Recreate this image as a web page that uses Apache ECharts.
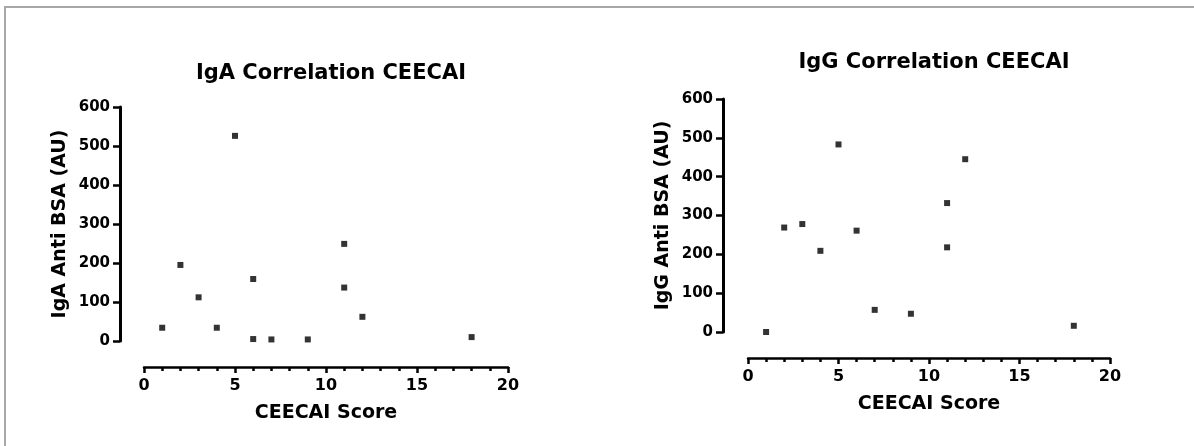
<!DOCTYPE html>
<html>
<head>
<meta charset="utf-8">
<script src="https://cdn.jsdelivr.net/npm/echarts@6/dist/echarts.min.js"></script>
<style>
  html, body { margin: 0; padding: 0; background: #fff; }
  #main { width: 1194px; height: 446px; }
</style>
</head>
<body>
<div id="main"></div>
<script>
let igaScore = [1, 2, 3, 4, 5, 6, 6, 7, 9, 11, 11, 12, 18];
let igaValue = [34, 195, 112, 34, 526, 159, 5, 4, 4, 249, 137, 62, 10];
let iggScore = [1, 2, 3, 4, 5, 6, 7, 9, 11, 11, 12, 18];
let iggValue = [0, 269, 278, 209, 483, 261, 57, 47, 332, 218, 445, 16];

let titles = ["IgA Correlation CEECAI", "IgG Correlation CEECAI"];
let yNames = ["IgA Anti BSA (AU)", "IgG Anti BSA (AU)"];
let xName = "CEECAI Score";

function pairs(xs, ys) {
  let out = [];
  xs.forEach(function(x, i) {
    out.push([x, ys[i]]);
  });
  return out;
}

let font = "DejaVu Sans";
let ink = "#000";

function xAxisFor(idx, offset) {
  return {
    type: "value",
    gridIndex: idx,
    min: 0,
    max: 20,
    interval: 5,
    offset: offset,
    name: xName,
    nameLocation: "middle",
    nameGap: 37,
    nameTextStyle: { fontFamily: font, fontWeight: "bold", fontSize: 19, color: ink },
    axisLine: { show: true, onZero: false, lineStyle: { color: "#000", width: 2.5 } },
    axisTick: { show: true, length: 6, lineStyle: { color: "#000", width: 2.5 } },
    minorTick: { show: true, splitNumber: 5, length: 4, lineStyle: { color: "#000", width: 2.5 } },
    axisLabel: { margin: 11, fontFamily: font, fontWeight: "bold", fontSize: 16, color: ink },
    splitLine: { show: false }
  };
}

function yAxisFor(idx, offset) {
  return {
    type: "value",
    gridIndex: idx,
    min: 0,
    max: 600,
    interval: 100,
    offset: offset,
    name: yNames[idx],
    nameLocation: "middle",
    nameRotate: 90,
    nameGap: 50,
    nameTextStyle: { fontFamily: font, fontWeight: "bold", fontSize: 19, color: ink },
    axisLine: { show: true, onZero: false, lineStyle: { color: "#000", width: 3 } },
    axisTick: { show: true, length: 7, lineStyle: { color: "#000", width: 2.5 } },
    axisLabel: { margin: 10, fontFamily: font, fontWeight: "bold", fontSize: 15, color: ink },
    splitLine: { show: false }
  };
}

let myChart = echarts.init(document.getElementById("main"));

let option = {
  backgroundColor: "#fff",
  animation: false,
  title: [
    {
      text: titles[0],
      left: 326,
      top: 58,
      textAlign: "center",
      textStyle: { fontFamily: font, fontWeight: "bold", fontSize: 21, color: ink }
    },
    {
      text: titles[1],
      left: 929,
      top: 47,
      textAlign: "center",
      textStyle: { fontFamily: font, fontWeight: "bold", fontSize: 21, color: ink }
    }
  ],
  graphic: [
    {
      type: "polyline",
      shape: { points: [[5, 446], [5, 7], [1194, 7]] },
      style: { fill: null, stroke: "#a8a8a8", lineWidth: 2 },
      silent: true
    }
  ],
  grid: [
    { left: 144, top: 107, width: 364, height: 234 },
    { left: 748, top: 99, width: 362, height: 233 }
  ],
  xAxis: [xAxisFor(0, 26), xAxisFor(1, 26)],
  yAxis: [yAxisFor(0, 24), yAxisFor(1, 25)],
  series: [
    {
      type: "scatter",
      xAxisIndex: 0,
      yAxisIndex: 0,
      symbol: "rect",
      symbolSize: 6,
      itemStyle: { color: "#000" },
      data: pairs(igaScore, igaValue)
    },
    {
      type: "scatter",
      xAxisIndex: 1,
      yAxisIndex: 1,
      symbol: "rect",
      symbolSize: 6,
      itemStyle: { color: "#000" },
      data: pairs(iggScore, iggValue)
    }
  ]
};

myChart.setOption(option);
</script>
</body>
</html>
